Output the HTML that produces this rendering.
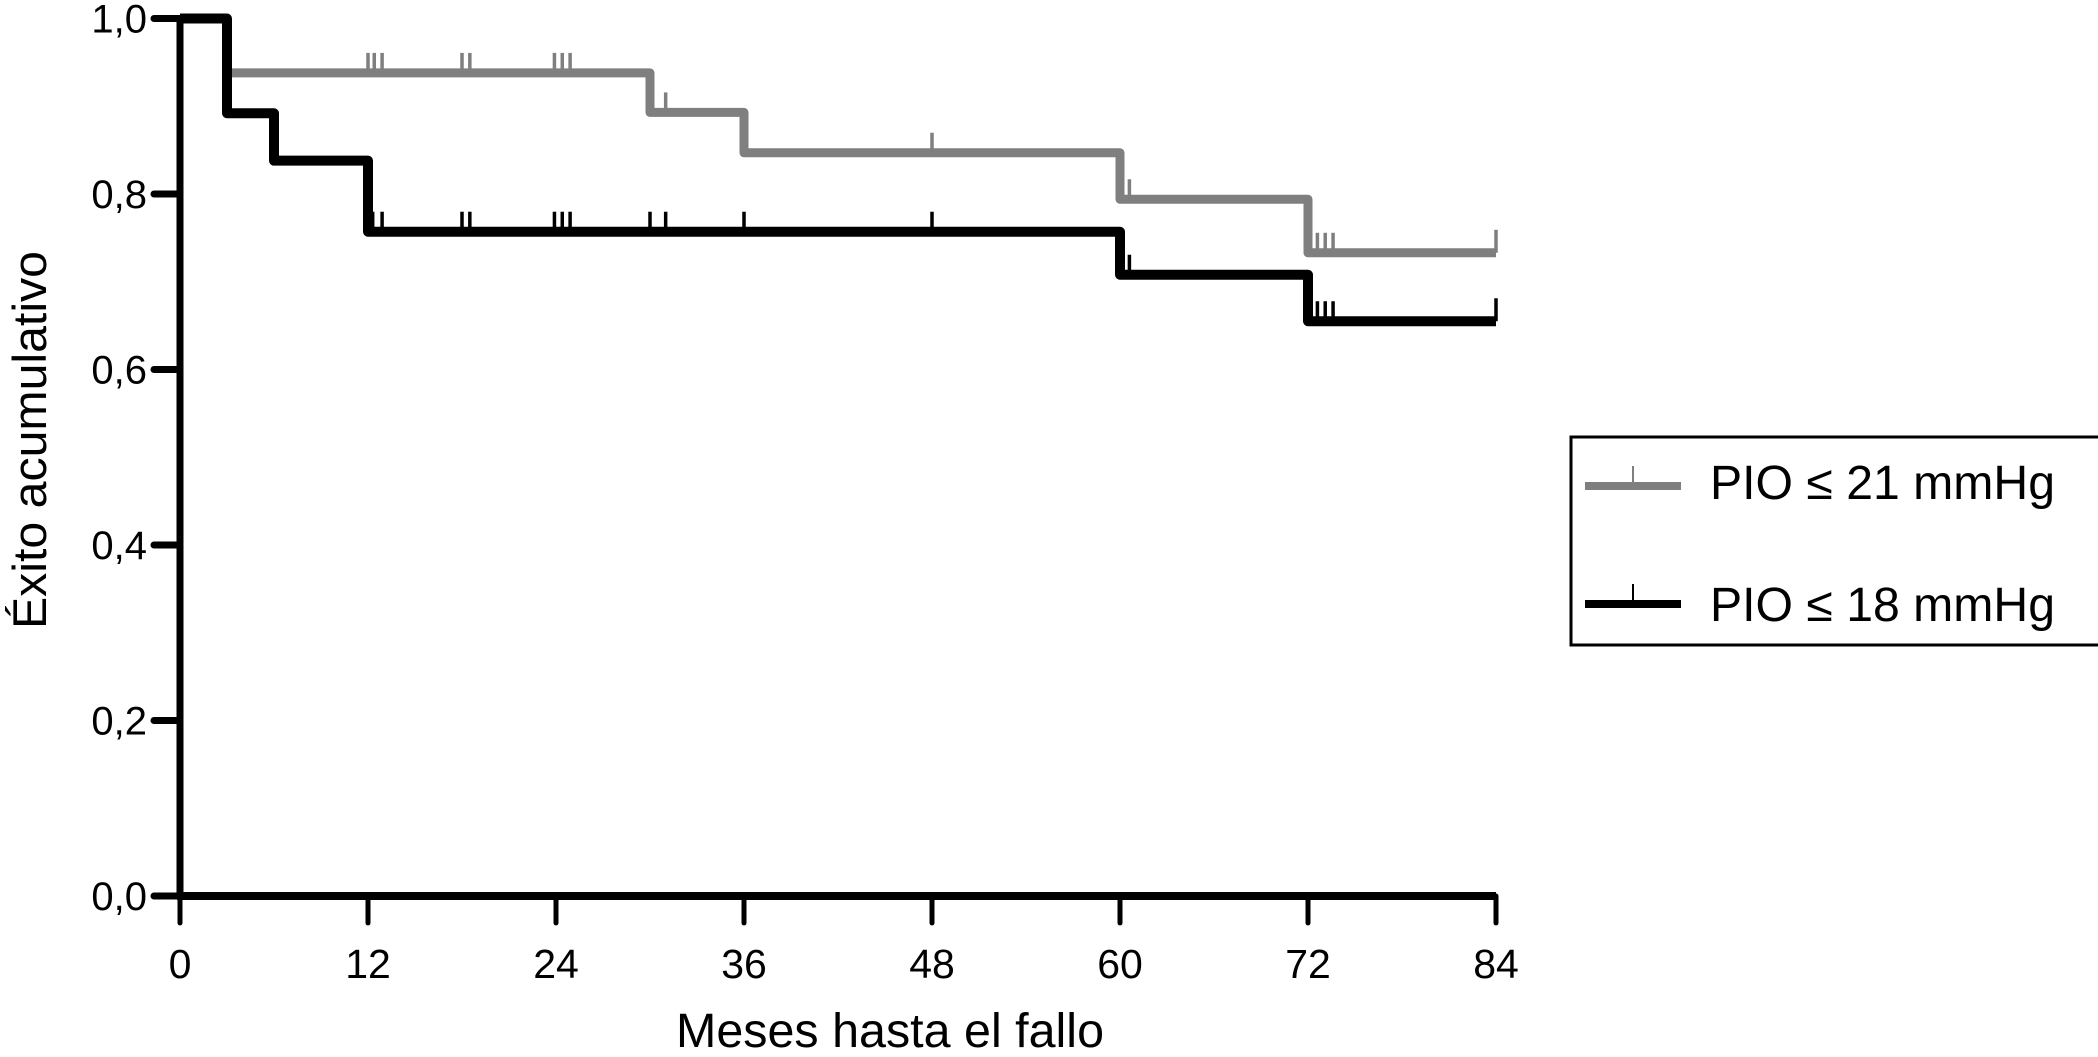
<!DOCTYPE html>
<html><head><meta charset="utf-8"><style>
html,body{margin:0;padding:0;background:#fff;}
svg{display:block;}
text{font-family:"Liberation Sans",Arial,sans-serif;fill:#000;}
</style></head><body>
<svg id="chart" width="2098" height="1057" viewBox="0 0 2098 1057" xmlns="http://www.w3.org/2000/svg">
<g id="axes"></g>
<g id="series"></g>
<text x="890" y="1047" text-anchor="middle" font-size="48" textLength="428" lengthAdjust="spacingAndGlyphs">Meses hasta el fallo</text>
<text transform="translate(46,440) rotate(-90)" text-anchor="middle" font-size="47" textLength="378" lengthAdjust="spacingAndGlyphs">Éxito acumulativo</text>
<g>
<rect x="1571" y="437" width="530" height="208" fill="#fff" stroke="#000" stroke-width="3"/>
<g>
<line x1="1585" y1="486" x2="1681" y2="486" stroke="#7f7f7f" stroke-width="8"/>
<line x1="1633" y1="486" x2="1633" y2="466" stroke="#7f7f7f" stroke-width="2"/>
<text x="1710" y="499" font-size="48" textLength="345" lengthAdjust="spacingAndGlyphs">PIO ≤ 21 mmHg</text>
</g>
<g>
<line x1="1585" y1="604" x2="1681" y2="604" stroke="#000" stroke-width="8"/>
<line x1="1633" y1="604" x2="1633" y2="584" stroke="#000" stroke-width="2"/>
<text x="1710" y="621" font-size="48" textLength="345" lengthAdjust="spacingAndGlyphs">PIO ≤ 18 mmHg</text>
</g>
</g>
</svg>
<script>
const xTicks = [0, 12, 24, 36, 48, 60, 72, 84];
const yTicks = [0, 0.2, 0.4, 0.6, 0.8, 1.0];
const yTickLabels = ["0,0", "0,2", "0,4", "0,6", "0,8", "1,0"];
const gray21Times = [0, 3, 30, 36, 60, 72, 84];
const gray21Surv = [1.0, 0.938, 0.893, 0.847, 0.794, 0.733, 0.733];
const gray21Censor = [12, 12.4, 12.9, 18, 18.5, 23.9, 24.4, 24.9, 31, 48, 60.6, 72.6, 73.1, 73.6, 84];
const black18Times = [0, 3, 6, 12, 60, 72, 84];
const black18Surv = [1.0, 0.892, 0.838, 0.757, 0.708, 0.655, 0.655];
const black18Censor = [12.3, 12.9, 18, 18.5, 23.9, 24.4, 24.9, 30, 31, 36, 48, 60.6, 72.6, 73.1, 73.6, 84];

const NS = "http://www.w3.org/2000/svg";
const X0 = 180, X1 = 1496, Y0 = 896, Y1 = 18.5;
function xs(t){ return X0 + (t - 0) / 84 * (X1 - X0); }
function ys(v){ return Y0 - v * (Y0 - Y1); }
function mk(tag, attrs, parent){ const e = document.createElementNS(NS, tag); for (const k in attrs) e.setAttribute(k, attrs[k]); parent.appendChild(e); return e; }

const axes = document.getElementById('axes');
const yAxis = mk('line', {x1: X0, y1: ys(1), x2: X0, y2: Y0, stroke: '#000', 'stroke-width': 7}, axes);


const xAxis = mk('line', {x1: X0 - 3, y1: Y0, x2: X1, y2: Y0, stroke: '#000', 'stroke-width': 8}, axes);


xTicks.forEach(function(t){
  const l = mk('line', {x1: xs(t), y1: Y0, x2: xs(t), y2: Y0 + 27, stroke: '#000', 'stroke-width': 5, 'stroke-linecap': 'round'}, axes);
  
  
  const tx = mk('text', {x: xs(t), y: 978, 'text-anchor': 'middle', 'font-size': 41}, axes);
  tx.textContent = String(t);
  
  
});
yTicks.forEach(function(v, i){
  const l = mk('line', {x1: X0 - 26, y1: ys(v), x2: X0, y2: ys(v), stroke: '#000', 'stroke-width': 7, 'stroke-linecap': 'round'}, axes);
  
  
  const tx = mk('text', {x: 147, y: ys(v) + 14, 'text-anchor': 'end', 'font-size': 40}, axes);
  tx.textContent = yTickLabels[i];
  
  
});

const series = document.getElementById('series');
function stepVal(times, surv, t){ let v = surv[0]; for (let i = 0; i < times.length; i++){ if (times[i] <= t) v = surv[i]; } return v; }
function drawSeries(times, surv, censor, color, width, name){
  const g = mk('g', {}, series);
  
  
  let d = 'M' + xs(times[0]) + ' ' + ys(surv[0]);
  for (let i = 1; i < times.length; i++){
    d += ' H' + xs(times[i]) + ' V' + ys(surv[i]);
  }
  const p = mk('path', {d: d, fill: 'none', stroke: color, 'stroke-width': width, 'stroke-linejoin': 'round'}, g);
  
  
  censor.forEach(function(t){
    const v = stepVal(times, surv, t);
    const c = mk('line', {x1: xs(t), y1: ys(v), x2: xs(t), y2: ys(v) - (t >= 84 ? 23 : 20), stroke: color, 'stroke-width': 3.5}, g);
    
    
  });
}
drawSeries(gray21Times, gray21Surv, gray21Censor, '#7f7f7f', 9, 'series-pio-21');
drawSeries(black18Times, black18Surv, black18Censor, '#000', 10, 'series-pio-18');
</script>
</body></html>
